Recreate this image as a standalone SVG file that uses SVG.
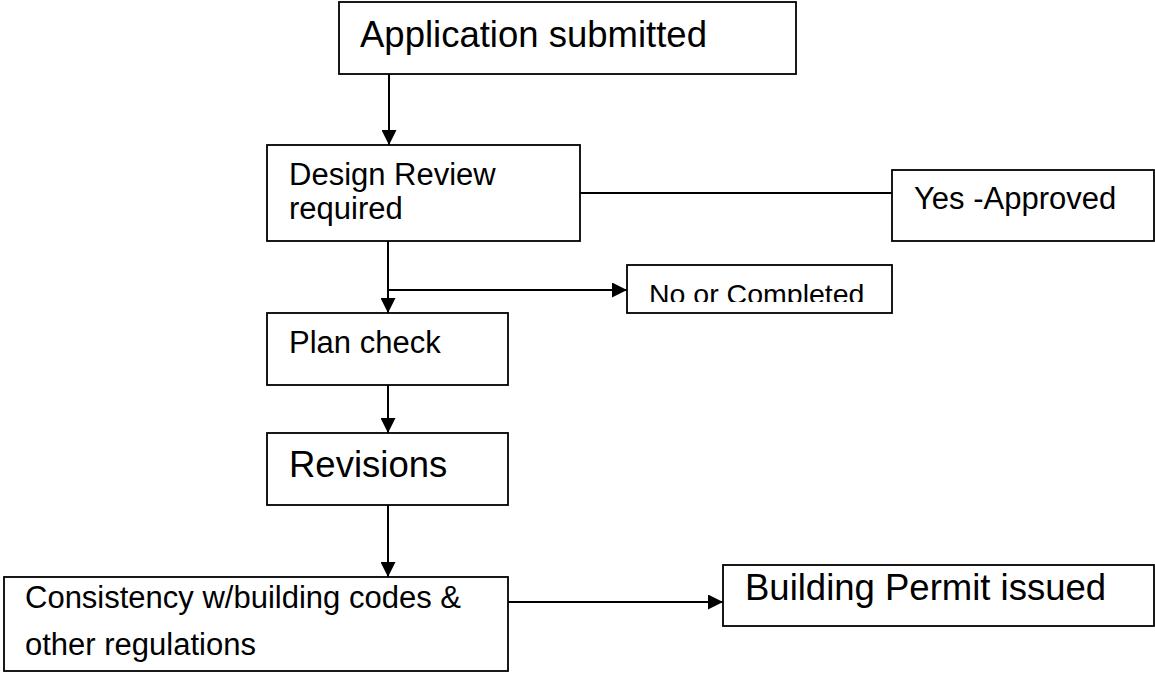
<svg xmlns="http://www.w3.org/2000/svg" width="1155" height="673" viewBox="0 0 1155 673">
  <style>
    .box { fill: #fff; stroke: #000; stroke-width: 1.8; }
    .lbl { font-family: "Liberation Sans", Arial, sans-serif; fill: #000; }
    .big { font-size: 36.5px; }
    .mid { font-size: 31px; }
    .sm { font-size: 28.5px; }
    .wire { fill: none; stroke: #000; stroke-width: 2; }
  </style>
  <defs>
    <marker id="arrow" viewBox="0 0 15 15" refX="15" refY="7.5" markerWidth="15" markerHeight="15" markerUnits="userSpaceOnUse" orient="auto">
      <path d="M0,0 L15,7.5 L0,15 Z" fill="#000"/>
    </marker>
    <clipPath id="clip-done">
      <rect x="627" y="265" width="265" height="37"/>
    </clipPath>
  </defs>

  <rect width="1155" height="673" fill="#fff"/>

  <!-- connectors -->
  <g id="connectors">
    <line class="wire" x1="389" y1="74" x2="389" y2="145" marker-end="url(#arrow)"/>
    <line class="wire" x1="580" y1="193" x2="892" y2="193"/>
    <line class="wire" x1="388" y1="241" x2="388" y2="313" marker-end="url(#arrow)"/>
    <line class="wire" x1="388" y1="290" x2="627" y2="290" marker-end="url(#arrow)"/>
    <line class="wire" x1="388" y1="385" x2="388" y2="433" marker-end="url(#arrow)"/>
    <line class="wire" x1="388" y1="505" x2="388" y2="577" marker-end="url(#arrow)"/>
    <line class="wire" x1="508" y1="602" x2="723" y2="602" marker-end="url(#arrow)"/>
  </g>

  <g id="node-submitted">
    <rect class="box" x="339" y="2" width="457" height="72"/>
    <text class="lbl big" x="360" y="47">Application submitted</text>
  </g>

  <g id="node-design-review">
    <rect class="box" x="267" y="145" width="313" height="96"/>
    <text class="lbl mid" x="289" y="185">Design Review</text>
    <text class="lbl mid" x="289" y="219">required</text>
  </g>

  <g id="node-approved">
    <rect class="box" x="892" y="170" width="262" height="71"/>
    <text class="lbl mid" x="914" y="209">Yes -Approved</text>
  </g>

  <g id="node-completed">
    <rect class="box" x="627" y="265" width="265" height="48"/>
    <text class="lbl sm" x="649" y="303.5" clip-path="url(#clip-done)">No or Completed</text>
  </g>

  <g id="node-plan-check">
    <rect class="box" x="267" y="313" width="241" height="72"/>
    <text class="lbl mid" x="289" y="353">Plan check</text>
  </g>

  <g id="node-revisions">
    <rect class="box" x="267" y="433" width="241" height="72"/>
    <text class="lbl big" x="289" y="477">Revisions</text>
  </g>

  <g id="node-consistency">
    <rect class="box" x="4" y="577" width="504" height="94"/>
    <text class="lbl mid" x="25" y="608">Consistency w/building codes &amp;</text>
    <text class="lbl mid" x="25" y="655">other regulations</text>
  </g>

  <g id="node-permit">
    <rect class="box" x="723" y="565" width="431" height="61"/>
    <text class="lbl big" x="745" y="600">Building Permit issued</text>
  </g>
</svg>
